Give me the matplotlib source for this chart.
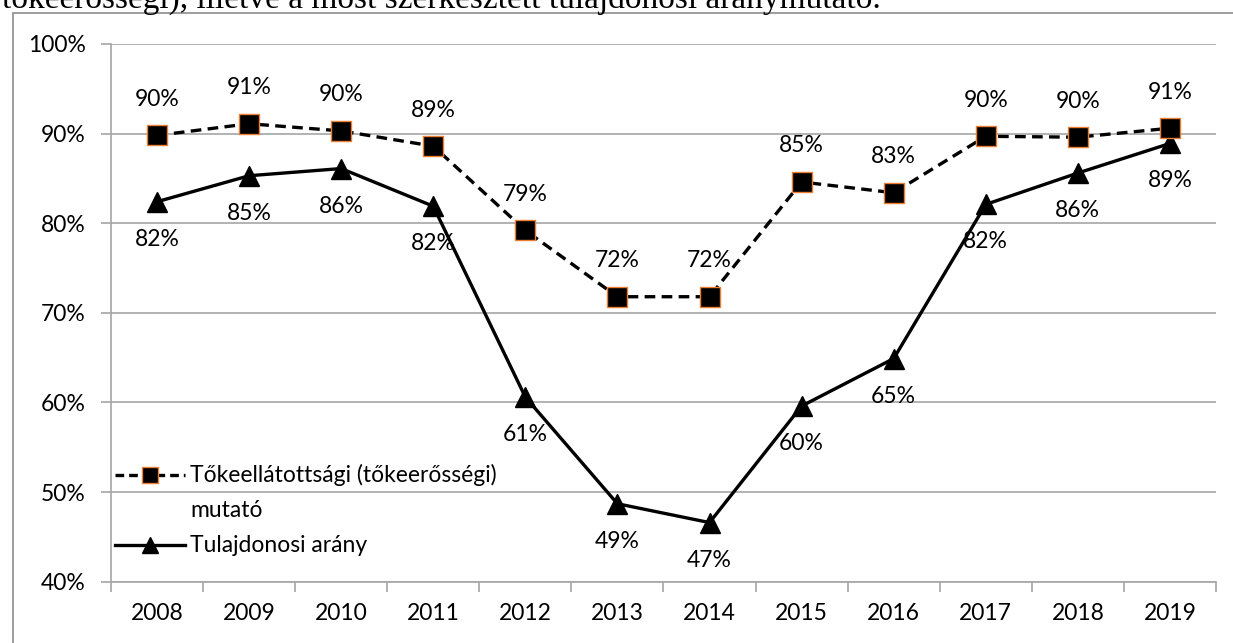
import matplotlib.pyplot as plt
from matplotlib.patches import Rectangle
import numpy as np

years = ['2008', '2009', '2010', '2011', '2012', '2013',
         '2014', '2015', '2016', '2017', '2018', '2019']
tokeellatottsag = [89.8, 91.1, 90.3, 88.6, 79.2, 71.8,
                   71.8, 84.6, 83.4, 89.7, 89.6, 90.6]
tulajdonosi = [82.4, 85.3, 86.1, 81.9, 60.6, 48.7,
               46.6, 59.6, 64.9, 82.1, 85.6, 88.9]

plt.rcParams['font.family'] = ['Lato', 'DejaVu Sans']
fs = 16.5

fig = plt.figure(figsize=(12.33, 6.43), dpi=100)
ax = fig.add_axes([0.09, 0.0953, 0.8962, 0.8363])

# chart frame and cut-off caption line above it
fig.patches.append(Rectangle((13 / 1233, -0.1), 1.2, (643 - 13) / 643 + 0.1,
                             transform=fig.transFigure, fill=False,
                             edgecolor='#8c8c8c', linewidth=1.2))
fig.text(0.002, 1 - 8 / 643, 'tőkeerősségi), illetve a most szerkesztett tulajdonosi aránymutató.',
         family='Liberation Serif', fontsize=24, va='baseline', ha='left')

x = np.arange(len(years))
orange = '#ED7D31'
dash = (0, (3.2, 1.9))

ax.plot(x, tulajdonosi, color='black', linewidth=2.4, marker='^',
        markersize=14, markerfacecolor='black', markeredgecolor='black',
        zorder=3)
ax.plot(x, tokeellatottsag, color='black', linewidth=2.4, linestyle=dash,
        marker='s', markersize=14, markerfacecolor='black',
        markeredgecolor=orange, markeredgewidth=1.0, zorder=4)

for xi, v in zip(x, tokeellatottsag):
    ax.annotate(f'{round(v):.0f}%', (xi, v), xytext=(0, 26), textcoords='offset points',
                ha='center', va='center', fontsize=fs)
for xi, v in zip(x, tulajdonosi):
    ax.annotate(f'{round(v):.0f}%', (xi, v), xytext=(0, -27), textcoords='offset points',
                ha='center', va='center', fontsize=fs)

ax.set_xlim(-0.5, len(years) - 0.5)
ax.set_ylim(40, 100)
ax.set_yticks(np.arange(40, 101, 10))
ax.set_yticklabels([f'{t}%' for t in range(40, 101, 10)])
ax.set_xticks(x)
ax.set_xticklabels(years)
ax.set_xticks(np.arange(-0.5, len(years)), minor=True)

grid_c = '#a6a6a6'
ax.grid(axis='y', color=grid_c, linewidth=1.2)
ax.set_axisbelow(True)
for s in ['top', 'right']:
    ax.spines[s].set_visible(False)
for s in ['left', 'bottom']:
    ax.spines[s].set_color(grid_c)
    ax.spines[s].set_linewidth(1.2)

ax.tick_params(axis='x', which='major', length=0, pad=15, labelsize=fs)
ax.tick_params(axis='x', which='minor', length=7, color=grid_c, width=1.2)
ax.tick_params(axis='y', length=7, color=grid_c, width=1.2, pad=11, labelsize=fs)

# legend drawn by hand so the symbol sits on the first line of the wrapped label
tr = ax.transAxes
ax.plot([0.0036, 0.067], [0.198, 0.198], transform=tr, color='black',
        linewidth=2.4, linestyle=(0, (2.6, 1.5)), clip_on=False)
ax.plot([0.035], [0.198], transform=tr, marker='s', markersize=12,
        markerfacecolor='black', markeredgecolor=orange, markeredgewidth=1.0,
        clip_on=False)
ax.text(0.0715, 0.198, 'Tőkeellátottsági (tőkeerősségi)', transform=tr,
        fontsize=fs, va='center', ha='left')
ax.text(0.0715, 0.133, 'mutató', transform=tr, fontsize=fs, va='center', ha='left')
ax.plot([0.0036, 0.067], [0.068, 0.068], transform=tr, color='black',
        linewidth=2.4, clip_on=False)
ax.plot([0.035], [0.068], transform=tr, marker='^', markersize=12,
        color='black', clip_on=False)
ax.text(0.0715, 0.068, 'Tulajdonosi arány', transform=tr, fontsize=fs,
        va='center', ha='left')

fig.savefig('out.png', dpi=100)
